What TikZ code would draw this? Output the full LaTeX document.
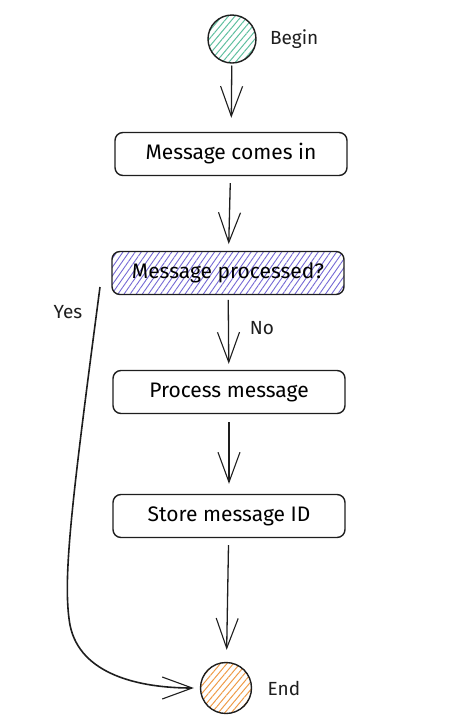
\documentclass[tikz,border=0pt]{standalone}
\usepackage{fontspec}
\setmainfont{Fira Sans}
\usetikzlibrary{arrows.meta,positioning,patterns.meta}
\definecolor{inkline}{HTML}{1E1E1E}
\definecolor{beginhatch}{HTML}{5FBF9F}
\definecolor{askhatch}{HTML}{7468D4}
\definecolor{endhatch}{HTML}{EE9B48}

\begin{document}
\begin{tikzpicture}[x=1pt,y=-1pt,
    stepbox/.style={draw=inkline,line width=1.4pt,rounded corners=8pt,
      minimum width=232pt,minimum height=43pt,font=\fontsize{21}{24}\selectfont},
    askbox/.style={stepbox,pattern={Lines[angle=55,distance=5pt,line width=0.9pt]},pattern color=askhatch},
    endpoint/.style={circle,draw=inkline,line width=1.4pt,minimum size=48pt,inner sep=0pt},
    tag/.style={font=\fontsize{19}{22}\selectfont,text=inkline},
    flow/.style={-{Straight Barb[length=30pt,width=22pt,line width=1.1pt]},line width=1.3pt,draw=inkline}]
  \useasboundingbox (0,0) rectangle (451,724);

  \node[endpoint,pattern={Lines[angle=50,distance=5pt,line width=1pt]},pattern color=beginhatch] (begin) at (232,39) {};
  \node[stepbox] (incoming) at (231,154) {Message comes in};
  \node[askbox] (processed) at (228,273) {Message processed?};
  \node[stepbox] (processmsg) at (229,392) {Process message};
  \node[stepbox] (storeid) at (229,516) {Store message ID};
  \node[endpoint,minimum size=51pt,pattern={Lines[angle=50,distance=5pt,line width=1pt]},pattern color=endhatch] (stop) at (226,688) {};

  \node[tag,right=10pt of begin] (beginlbl) {Begin};
  \node[tag,right=12pt of stop] (stoplbl) {End};
  \node[tag] (nolbl) at (262,328) {No};
  \node[tag] (yeslbl) at (68,312) {Yes};
  \coordinate (yesstart) at (100,287);

  \draw[flow,shorten <=2pt,shorten >=14pt] (begin) -- (incoming);
  \draw[flow,shorten <=7pt,shorten >=7pt] (incoming) -- (processed);
  \draw[flow,shorten <=5pt,shorten >=6pt] (processed) -- (processmsg);
  \draw[flow,shorten <=8pt,shorten >=10pt] (processmsg) -- (storeid);
  \draw[flow,shorten <=7pt,shorten >=12pt] (storeid) -- (stop);
  \draw[flow,line width=1.6pt,shorten >=6pt] (yesstart) .. controls (72,500) and (62,580) .. (70,625)
    .. controls (80,675) and (140,688) .. (stop.west);
\end{tikzpicture}
\end{document}
